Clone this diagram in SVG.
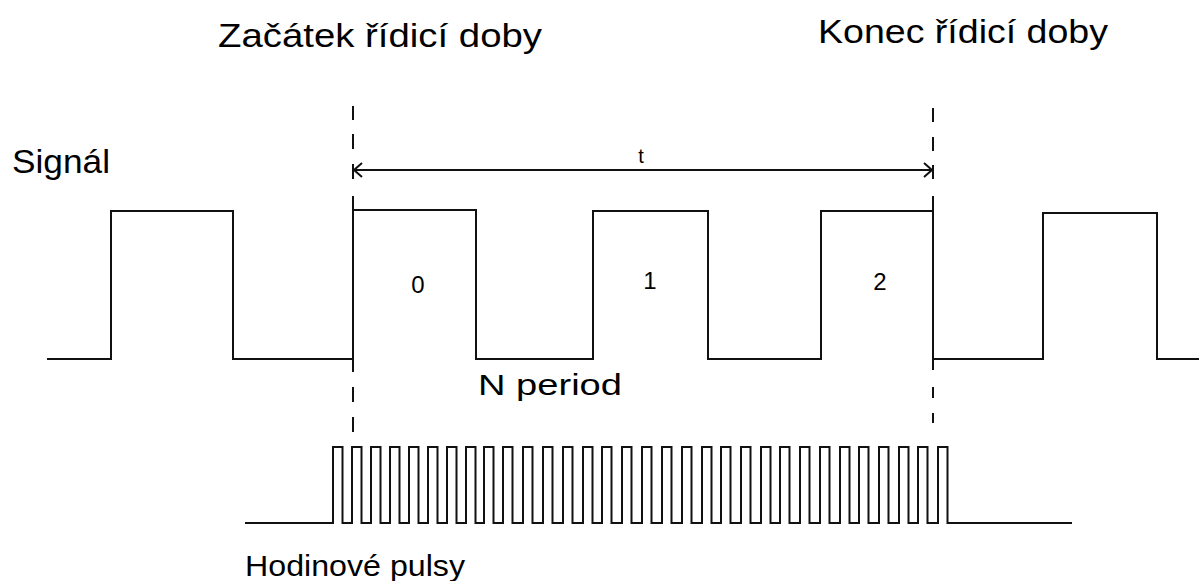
<svg xmlns="http://www.w3.org/2000/svg" width="1199" height="581" viewBox="0 0 1199 581">
  <style>
    .wave { fill: none; stroke: #111; stroke-width: 2; stroke-linejoin: miter; }
    .mark { fill: none; stroke: #111; stroke-width: 2; }
    .lbl { font-family: "Liberation Sans", Arial, sans-serif; fill: #000; }
    .big { font-size: 33px; }
    .mid { font-size: 30px; }
    .num { font-size: 24px; text-anchor: middle; }
  </style>
  <defs>
    <marker id="chev" viewBox="-10 -8 12 16" markerWidth="12" markerHeight="16" refX="0" refY="0" orient="auto-start-reverse" markerUnits="userSpaceOnUse">
      <path d="M-8,-7 L0,0 L-8,7" fill="none" stroke="#111" stroke-width="2"/>
    </marker>
  </defs>
  <rect width="1199" height="581" fill="#fff"/>

  <!-- titles -->
  <g id="title-start">
    <text class="lbl big" x="218" y="47" textLength="324" lengthAdjust="spacingAndGlyphs">Začátek řídicí doby</text>
  </g>
  <g id="title-end">
    <text class="lbl big" x="818" y="43" textLength="290" lengthAdjust="spacingAndGlyphs">Konec řídicí doby</text>
  </g>

  <!-- input signal waveform -->
  <g id="signal">
    <text class="lbl big" x="12" y="173" textLength="98" lengthAdjust="spacingAndGlyphs">Signál</text>
    <path class="wave" d="M47,359 H111 V211 H233 V359 H353 V210 H476 V359 H593 V211 H708 V359 H821 V211 H933 V359 H1043 V213 H1157 V359 H1199"/>
    <text class="lbl num" x="418" y="293">0</text>
    <text class="lbl num" x="650" y="289">1</text>
    <text class="lbl num" x="880" y="290">2</text>
    <text class="lbl mid" x="478" y="395" textLength="144" lengthAdjust="spacingAndGlyphs">N period</text>
  </g>

  <!-- clock pulse train -->
  <g id="clock">
    <path class="wave" d="M245,523
      H333V447H342.5V523 H352V447H361.5V523 H371V447H380.5V523 H390V447H399.5V523
      H409V447H418.5V523 H428V447H437.5V523 H447V447H456.5V523 H466V447H475.5V523
      H484V447H493.5V523 H503V447H512.5V523 H523V447H532.5V523 H543V447H552.5V523
      H563V447H572.5V523 H583V447H592.5V523 H602V447H611.5V523 H622V447H631.5V523
      H642V447H651.5V523 H662V447H671.5V523 H682V447H691.5V523 H702V447H711.5V523
      H721V447H730.5V523 H741V447H750.5V523 H761V447H770.5V523 H780V447H789.5V523
      H800V447H809.5V523 H820V447H829.5V523 H840V447H849.5V523 H859V447H868.5V523
      H879V447H888.5V523 H899V447H908.5V523 H918V447H927.5V523 H938V447H947.5V523
      H1072"/>
    <text class="lbl mid" x="245" y="576" textLength="220" lengthAdjust="spacingAndGlyphs">Hodinové pulsy</text>
  </g>

  <!-- interval boundaries and the measured time t -->
  <g id="connectors">
    <path class="mark" d="M353,106 V120 M353,134 V149 M353,164 V179 M353,196 V372 M353,387 V402 M353,417 V432"/>
    <path class="mark" d="M933,108 V122 M933,137 V151 M933,165 V179 M933,196 V370 M933,387 V398 M933,413 V423"/>
    <line class="mark" x1="354" y1="170" x2="932" y2="170" marker-start="url(#chev)" marker-end="url(#chev)"/>
    <text class="lbl" x="641" y="163" font-size="20" text-anchor="middle">t</text>
  </g>
</svg>
